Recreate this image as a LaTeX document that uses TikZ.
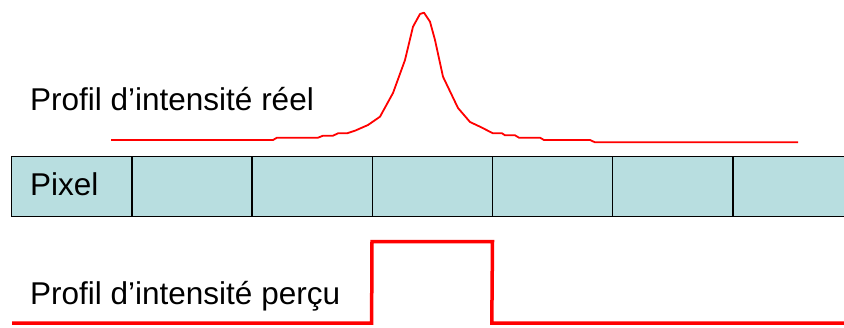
\documentclass[tikz,border=0pt]{standalone}
\usepackage{fontspec}
\setmainfont{Liberation Sans}
\usepackage{xcolor}
\usepackage{tikz}
\usetikzlibrary{positioning, calc}

\definecolor{pixelfill}{RGB}{184,222,224}
\definecolor{profilred}{RGB}{255,0,0}

\tikzset{
    label text/.style={anchor=base west, inner sep=0pt, font=\fontsize{31.5}{36}\selectfont},
    pixel cell/.style={draw=black, line width=1.3pt, fill=pixelfill, minimum width=120.5pt, minimum height=60pt, inner sep=0pt, anchor=north west}
}

\begin{document}
\begin{tikzpicture}[x=1pt, y=-1pt]
    \useasboundingbox (0,0) rectangle (844,327);

    % Pixel row
    \foreach \i in {0,...,6} {
        \node[pixel cell] (cell\i) at ({11+120.2*\i},156) {};
    }
    \node[label text] (pixel) at (30,195) {Pixel};

    % Labels
    \node[label text] (reel) at (30,110) {Profil d’intensité réel};
    \node[label text] (percu) at (30,304) {Profil d’intensité perçu};

    % Real intensity profile
    \draw[profilred, line width=1.8pt, line join=round]
        (111,140) -- (273,140) -- (277,137.7) -- (318,137.7) -- (323,135.7) -- (333,135.7)
        -- (338,133.3) -- (347,133.3) -- (355,130.7) -- (368,125) -- (380,116.7)
        -- (393,93) -- (405,60) -- (413,26.7) -- (420,14) -- (424,12.7) -- (430,21.7)
        -- (435,40) -- (443,76.7) -- (458,108) -- (470,122) -- (480,126.7)
        -- (493,133.3) -- (502,133.3) -- (505,135.3) -- (515,135.3) -- (519,137.7)
        -- (540,137.7) -- (544,140) -- (590,140) -- (595,142.3) -- (798,142.3);

    % Perceived intensity profile
    \coordinate (start) at (12,323);
    \coordinate (stop) at (844,323);
    \draw[profilred, line width=3.5pt]
        (start) -- (cell3.north west |- start) -- (372,241.5) -- (492.5,241.5)
        -- (cell4.north west |- stop) -- (stop);
\end{tikzpicture}
\end{document}
